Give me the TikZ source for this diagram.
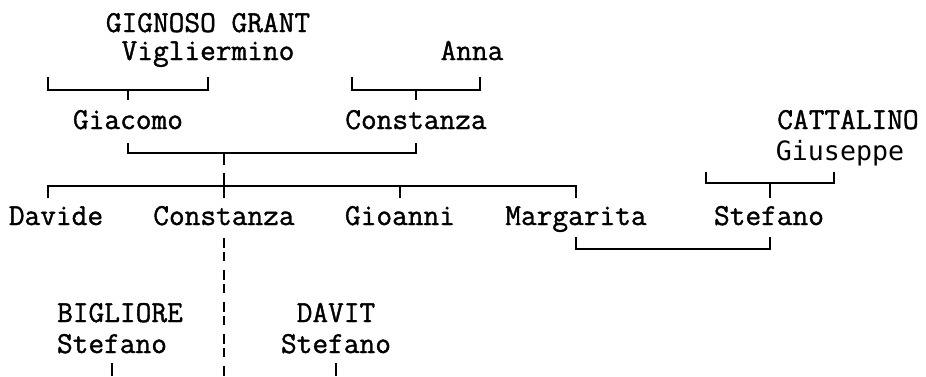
\documentclass[tikz,border=0pt]{standalone}
\usepackage{fontspec}
\newfontfamily\dvmono{DejaVu Sans Mono}
\newfontfamily\lmheavy{Latin Modern Mono}[FakeBold=1.2]
\begin{document}
\begin{tikzpicture}[x=1pt,y=-1pt,
  lbl/.style={inner sep=0pt, anchor=base, font=\fontsize{30.5}{32}\selectfont\lmheavy},
  lblsans/.style={inner sep=0pt, anchor=base, font=\fontsize{26.6}{30}\selectfont\dvmono},
  ln/.style={line width=1.8pt, line cap=butt, line join=miter},
  dln/.style={ln, dash pattern=on 10pt off 4pt on 9pt off 9pt}]
\useasboundingbox (0,0) rectangle (926,376);
% names
\node[lbl] (gg) at (208,32) {GIGNOSO GRANT};
\node[lbl] (vig) at (208,60) {Vigliermino};
\node[lbl] (anna) at (472,60) {Anna};
\node[lbl] (giac) at (128,129) {Giacomo};
\node[lbl] (conP) at (416,129) {Constanza};
\node[lbl] (catt) at (848,129) {CATTALINO};
\node[lblsans] (gius) at (840,160) {Giuseppe};
\node[lbl] (dav) at (56,225) {Davide};
\node[lbl] (con) at (224,225) {Constanza};
\node[lbl] (gio) at (400,225) {Gioanni};
\node[lbl] (mar) at (576,225) {Margarita};
\node[lbl] (ste) at (769,225) {Stefano};
\node[lbl] (big) at (120,322) {BIGLIORE};
\node[lbl] (bste) at (112,353) {Stefano};
\node[lbl] (dvt) at (336,322) {DAVIT};
\node[lbl] (dste) at (336,353) {Stefano};
% junction coordinates
\coordinate (vigL) at (48,77);  \coordinate (vigR) at (208,77);
\coordinate (vigT) at (128,90); \coordinate (giacTop) at (128,100);
\coordinate (annaL) at (352,77); \coordinate (annaR) at (480,77);
\coordinate (annaT) at (416,90); \coordinate (conPTop) at (416,100);
\coordinate (parL) at (128,143); \coordinate (parR) at (416,143);
\coordinate (parT) at (224,153); \coordinate (parB) at (224,165);
\coordinate (sibTop) at (224,173); \coordinate (sibMid) at (224,186);
\coordinate (conTop) at (224,198);
\coordinate (davTop) at (48,198); \coordinate (marTop) at (576,198);
\coordinate (gioMid) at (400,186); \coordinate (gioTop) at (400,198);
\coordinate (giusL) at (706,172); \coordinate (giusR) at (834,172);
\coordinate (giusT) at (770,183); \coordinate (steTop) at (770,198);
\coordinate (marB) at (576,237); \coordinate (steB) at (770,237);
\coordinate (conB) at (224,238); \coordinate (conEnd) at (224,376);
\coordinate (bsteB) at (112,363); \coordinate (bsteEnd) at (112,376);
\coordinate (dsteB) at (336,363); \coordinate (dsteEnd) at (336,376);
% connectors
\draw[ln] (vigL) -- (vigL |- vigT) -- (vigR |- vigT) -- (vigR);
\draw[ln] (vigT) -- (giacTop);
\draw[ln] (annaL) -- (annaL |- annaT) -- (annaR |- annaT) -- (annaR);
\draw[ln] (annaT) -- (conPTop);
\draw[ln] (parL) -- (parL |- parT) -- (parR |- parT) -- (parR);
\draw[ln] (parT) -- (parB);
\draw[ln] (sibTop) -- (conTop);
\draw[ln] (davTop) -- (davTop |- sibMid) -- (marTop |- sibMid) -- (marTop);
\draw[ln] (gioMid) -- (gioTop);
\draw[ln] (giusL) -- (giusL |- giusT) -- (giusR |- giusT) -- (giusR);
\draw[ln] (giusT) -- (steTop);
\draw[ln] (marB) -- ++(0,12) -| (steB);
\draw[dln] (conB) -- (conEnd);
\draw[ln] (bsteB) -- (bsteEnd);
\draw[ln] (dsteB) -- (dsteEnd);
\end{tikzpicture}
\end{document}
